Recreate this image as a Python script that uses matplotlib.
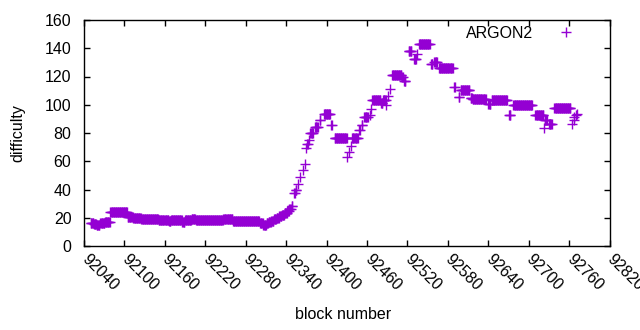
import numpy as np
import matplotlib
matplotlib.use("Agg")
import matplotlib.pyplot as plt

plt.rcParams['font.family'] = ['Liberation Sans', 'DejaVu Sans']

# Runs of blocks sharing the same difficulty
seg_start = [92050, 92055, 92059, 92064, 92071, 92079, 92105, 92113, 92125, 92151,
             92166, 92169, 92186, 92190, 92200, 92206, 92247, 92261, 92301, 92306,
             92311, 92314, 92318, 92322, 92326, 92330, 92334, 92338, 92342, 92345,
             92348, 92352, 92354, 92358, 92361, 92365, 92368, 92369, 92371, 92374,
             92376, 92383, 92390, 92396, 92407, 92412, 92431, 92433, 92436, 92438,
             92448, 92452, 92456, 92464, 92466, 92468, 92481, 92484, 92489, 92491,
             92494, 92497, 92512, 92515, 92522, 92530, 92535, 92537, 92555, 92560,
             92567, 92589, 92596, 92599, 92614, 92617, 92640, 92645, 92671, 92677,
             92710, 92723, 92724, 92730, 92738, 92765, 92767, 92768, 92770, 92772]
seg_end = [92054, 92058, 92063, 92070, 92078, 92104, 92112, 92124, 92150, 92165,
           92168, 92185, 92189, 92199, 92205, 92246, 92260, 92300, 92305, 92310,
           92313, 92317, 92321, 92325, 92329, 92333, 92337, 92341, 92344, 92347,
           92349, 92353, 92355, 92358, 92361, 92365, 92368, 92369, 92372, 92374,
           92380, 92387, 92391, 92405, 92408, 92430, 92431, 92433, 92436, 92446,
           92449, 92453, 92461, 92464, 92466, 92480, 92483, 92488, 92489, 92491,
           92494, 92511, 92513, 92517, 92526, 92533, 92535, 92553, 92557, 92564,
           92587, 92590, 92597, 92612, 92616, 92636, 92643, 92668, 92673, 92705,
           92722, 92723, 92727, 92734, 92762, 92765, 92767, 92768, 92770, 92772]
seg_difficulty = [16.5, 15.5, 14.8, 16.2, 17.0, 24.0, 20.8, 19.8, 19.0, 18.3,
                  17.5, 18.3, 17.3, 18.3, 18.8, 18.3, 19.4, 17.6, 16.5, 15.2,
                  16.5, 17.2, 18.0, 19.0, 20.0, 21.0, 22.3, 23.5, 24.8, 26.0,
                  28.0, 37.5, 39.5, 44.0, 49.0, 53.6, 57.8, 69.6, 72.4, 75.3,
                  80.0, 84.5, 89.0, 93.6, 85.4, 76.4, 63.0, 66.5, 71.0, 76.8,
                  82.3, 86.0, 91.3, 93.0, 97.0, 103.5, 101.5, 103.5, 99.5, 106.0,
                  111.0, 121.0, 119.5, 116.5, 137.7, 132.5, 136.0, 143.0, 128.5, 130.6,
                  126.0, 112.5, 105.5, 110.6, 105.0, 104.0, 100.7, 103.5, 93.0, 99.5,
                  92.4, 83.7, 89.0, 86.6, 98.0, 86.6, 89.5, 91.0, 92.5, 93.5]

x_ticks = list(range(92040, 92821, 60))
y_ticks = list(range(0, 161, 20))

blocks = np.concatenate([np.arange(s, e + 1) for s, e in zip(seg_start, seg_end)])
difficulty = np.concatenate([np.full(e - s + 1, d) for s, e, d in zip(seg_start, seg_end, seg_difficulty)])

FS = 11.5

fig = plt.figure(figsize=(6.4, 3.3), dpi=100)
ax = fig.add_axes([84 / 640, 1 - 246 / 330, (609.5 - 84) / 640, (246 - 20) / 330])

color = '#9400D3'
ax.plot(blocks, difficulty, linestyle='none', marker='+', markersize=6.6,
        markeredgewidth=1.0, color=color, label='ARGON2')

ax.set_xlim(92040, 92820)
ax.set_ylim(0, 160)
ax.set_xticks(x_ticks)
ax.set_yticks(y_ticks)
ax.set_xticklabels([str(v) for v in x_ticks], rotation=-45, ha='left', va='center',
                   rotation_mode='anchor', fontsize=FS)
ax.set_yticklabels([str(v) for v in y_ticks], fontsize=FS)
ax.tick_params(axis='both', direction='in', length=4.5, width=1, top=True, right=True,
               colors='black')
ax.tick_params(axis='y', pad=9)
ax.tick_params(axis='x', pad=8)
for sp in ax.spines.values():
    sp.set_linewidth(1)
    sp.set_color('black')

ax.set_xlabel('block number', fontsize=FS)
ax.set_ylabel('difficulty', fontsize=FS)
ax.xaxis.set_label_coords(0.493, -0.305)
ax.xaxis.label.set_va('center')
ax.yaxis.set_label_coords(-0.125, 0.5)
ax.yaxis.label.set_va('center')

leg = ax.legend(loc='upper right', bbox_to_anchor=(0.948, 0.975), frameon=False,
                markerfirst=False, handlelength=2.0, handletextpad=1.05,
                borderaxespad=0, borderpad=0, fontsize=FS)

fig.savefig('out.png', dpi=100)
